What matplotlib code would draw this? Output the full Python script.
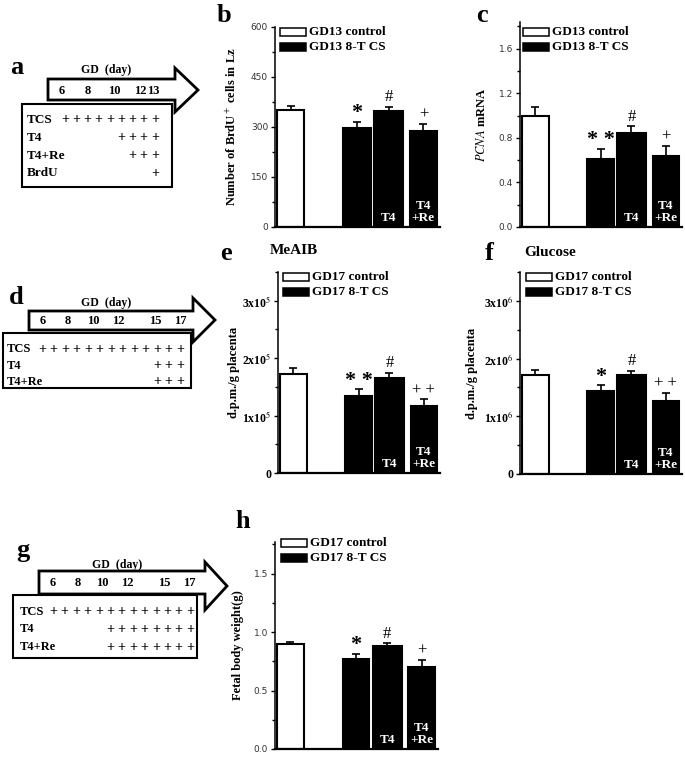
import numpy as np
import matplotlib.pyplot as plt
from matplotlib.patches import Polygon, Rectangle
from matplotlib.ticker import FixedLocator, MultipleLocator

plt.rcParams['font.family'] = ['Liberation Serif', 'DejaVu Serif']
plt.rcParams['mathtext.fontset'] = 'stix'

# ---- bar data (control, 8-T CS, 8-T CS + T4, 8-T CS + T4 + Re) ----
brdu = [352, 297, 349, 287]
brdu_err = [11, 18, 12, 23]
brdu_sig = ['', '*', '#', '+']

pcna = [1.0, 0.61, 0.84, 0.64]
pcna_err = [0.075, 0.09, 0.065, 0.085]
pcna_sig = ['', '* *', '#', '+']

meaib = [1.73e5, 1.34e5, 1.66e5, 1.16e5]
meaib_err = [0.09e5, 0.12e5, 0.09e5, 0.13e5]
meaib_sig = ['', '* *', '#', '+ +']

glucose = [1.71e6, 1.43e6, 1.71e6, 1.27e6]
glucose_err = [0.09e6, 0.11e6, 0.08e6, 0.14e6]
glucose_sig = ['', '*', '#', '+ +']

fbw = [0.90, 0.77, 0.88, 0.70]
fbw_err = [0.017, 0.045, 0.023, 0.063]
fbw_sig = ['', '*', '#', '+']

inside_labels = ['', '', 'T4', 'T4\n+Re']
legend_gd13 = ['GD13 control', 'GD13 8-T CS']
legend_gd17 = ['GD17 control', 'GD17 8-T CS']

# ---- schedule data ----
sched_a_days = [6, 8, 10, 12, 13]
sched_a_rows = ['TCS', 'T4', 'T4+Re', 'BrdU']
sched_a_plus = [9, 4, 3, 1]
sched_d_days = [6, 8, 10, 12, 15, 17]
sched_d_rows = ['TCS', 'T4', 'T4+Re']
sched_d_plus = [13, 3, 3]
sched_g_days = [6, 8, 10, 12, 15, 17]
sched_g_rows = ['TCS', 'T4', 'T4+Re']
sched_g_plus = [13, 8, 8]

W, H = 685, 759
fig = plt.figure(figsize=(W / 100, H / 100), dpi=100)

xpos = [0, 2, 2.95, 4]
widths = [0.82, 0.82, 0.88, 0.8]
colors = ['white', 'black', 'black', 'black']


def px_rect(x0, y0, x1, y1):
    # pixel box -> figure fraction
    return [x0 / W, 1 - y1 / H, (x1 - x0) / W, (y1 - y0) / H]


def bar_panel(box, vals, errs, sig, ymax, ticks, minor, labels, ylabel, lab_x,
              bold_ticks=False):
    ax = fig.add_axes(px_rect(*box))
    ax.patch.set_visible(False)
    ax.bar(xpos, vals, width=widths, color=colors, edgecolor='black',
           linewidth=1.5, zorder=2)
    ax.errorbar(xpos, vals, yerr=[np.zeros(4), errs], fmt='none',
                ecolor='black', elinewidth=1.2, capsize=3, capthick=1.2,
                zorder=3)
    for x, v, e, s in zip(xpos, vals, errs, sig):
        if not s:
            continue
        star = '*' in s
        ax.annotate(s, (x, v + e), xytext=(0, -1 if star else 1),
                    textcoords='offset points', ha='center', va='bottom',
                    fontsize=16 if star else 12,
                    fontweight='bold' if star else 'normal')
    for x, s in zip(xpos, inside_labels):
        if s:
            ax.annotate(s, (x, 0), xytext=(0, 2), textcoords='offset points',
                        ha='center', va='bottom', color='white',
                        fontweight='bold', fontsize=9.5, linespacing=1.0)
    ax.set_xlim(-0.47, 4.5)
    ax.set_ylim(0, ymax)
    ax.spines[['top', 'right']].set_visible(False)
    ax.spines['bottom'].set_linewidth(1.6)
    ax.spines['left'].set_linewidth(1.1)
    ax.set_xticks([])
    ax.yaxis.set_major_locator(FixedLocator(ticks))
    ax.yaxis.set_minor_locator(MultipleLocator(minor))
    ax.set_yticklabels(labels)
    ax.tick_params(axis='y', which='major', length=3, width=1, pad=2)
    ax.tick_params(axis='y', which='minor', length=2, width=1)
    if bold_ticks:
        for t in ax.get_yticklabels():
            t.set_fontweight('bold')
            t.set_fontsize(8.5)
    else:
        for t in ax.get_yticklabels():
            t.set_family('DejaVu Sans')
            t.set_fontsize(6.5)
            t.set_color('#333333')
    ax.set_ylabel(ylabel, fontweight='bold', fontsize=9)
    ax.yaxis.set_label_coords(lab_x, 0.5)
    return ax


bar_panel((275, 27, 440, 227), brdu, brdu_err, brdu_sig, 600,
          [0, 150, 300, 450, 600], 75, ['0', '150', '300', '450', '600'],
          'Number of BrdU$^+$ cells in Lz', -0.22)
bar_panel((520, 22, 682, 227), pcna, pcna_err, pcna_sig, 1.84,
          [0, 0.4, 0.8, 1.2, 1.6], 0.2, ['0.0', '0.4', '0.8', '1.2', '1.6'],
          r'$\mathit{PCNA}$ mRNA', -0.2)
bar_panel((278, 272, 440, 473), meaib, meaib_err, meaib_sig, 3.5e5,
          [0, 1e5, 2e5, 3e5], 0.5e5,
          ['0', '1x10$^5$', '2x10$^5$', '3x10$^5$'],
          'd.p.m./g placenta', -0.235, bold_ticks=True)
bar_panel((520, 272, 682, 474), glucose, glucose_err, glucose_sig, 3.5e6,
          [0, 1e6, 2e6, 3e6], 0.5e6,
          ['0', '1x10$^6$', '2x10$^6$', '3x10$^6$'],
          'd.p.m./g placenta', -0.26, bold_ticks=True)
bar_panel((275, 542, 438, 749), fbw, fbw_err, fbw_sig, 1.77,
          [0, 0.5, 1.0, 1.5], 0.25, ['0.0', '0.5', '1.0', '1.5'],
          'Fetal body weight(g)', -0.19)

# overlay in pixel coordinates for schemes, legends and panel letters
ov = fig.add_axes([0, 0, 1, 1], facecolor='none')
ov.set_xlim(0, W)
ov.set_ylim(H, 0)
ov.axis('off')


def legend(x, y, labels):
    for i, (lab, fc) in enumerate(zip(labels, ['white', 'black'])):
        yy = y + 15 * i
        ov.add_patch(Rectangle((x, yy), 26, 7.5, facecolor=fc,
                               edgecolor='black', linewidth=1.1))
        ov.text(x + 29, yy + 4, lab, fontsize=9.5, fontweight='bold',
                va='center', ha='left')


legend(280, 28, legend_gd13)
legend(523, 28, legend_gd13)
legend(283, 273, legend_gd17)
legend(526, 273, legend_gd17)
legend(281, 539, legend_gd17)


def scheme(days, rows, plus, body, head, box, gd_y, day0, day_step, row_x,
           row_y, plus_right, plus_step, fs=9):
    bx0, bx1, by0, by1 = body
    tip, hy0, hy1 = head
    pts = [(bx0, by0), (bx1, by0), (bx1, hy0), (tip, (hy0 + hy1) / 2),
           (bx1, hy1), (bx1, by1), (bx0, by1)]
    ov.add_patch(Polygon(pts, closed=True, facecolor='white',
                         edgecolor='black', linewidth=2, joinstyle='miter'))
    x0, y0, x1, y1 = box
    ov.add_patch(Rectangle((x0, y0), x1 - x0, y1 - y0, facecolor='white',
                           edgecolor='black', linewidth=1.5))
    ov.text((bx0 + bx1) / 2 - 5, gd_y, 'GD  (day)', fontsize=8.5,
            fontweight='bold', ha='center', va='center')
    for d in days:
        ov.text(day0 + (d - days[0]) * day_step, (by0 + by1) / 2 + 1, str(d),
                fontsize=9, fontweight='bold', ha='center', va='center')
    for r, n, yy in zip(rows, plus, row_y):
        ov.text(row_x, yy, r, fontsize=fs, fontweight='bold', ha='left',
                va='center')
        for k in range(n):
            ov.text(plus_right - k * plus_step, yy, '+', fontsize=10,
                    fontweight='bold', ha='center', va='center')


scheme(sched_a_days, sched_a_rows, sched_a_plus, (48, 175, 79, 100),
       (198, 68, 112), (22, 104, 172, 187), 70, 62, 13, 27,
       [120, 138, 156, 173], 155, 11.25, fs=9.5)
scheme(sched_d_days, sched_d_rows, sched_d_plus, (29, 193, 311, 330),
       (215, 298, 342), (3, 333, 191, 388), 303, 43, 12.5, 7,
       [349, 366, 382], 180, 11.5)
scheme(sched_g_days, sched_g_rows, sched_g_plus, (39, 205, 571, 594),
       (227, 562, 610), (13, 595, 197, 658), 565, 53, 12.4, 20,
       [612, 629, 647], 190, 11.4)

# titles and panel letters
ov.text(294, 251, 'MeAIB', fontsize=11, fontweight='bold', ha='center',
        va='center')
ov.text(550, 252, 'Glucose', fontsize=11, fontweight='bold', ha='center',
        va='center')
for s, x, y in [('a', 17, 67), ('b', 224, 15), ('c', 482, 16),
                ('d', 16, 298), ('e', 226, 254), ('f', 489, 253),
                ('g', 23, 550), ('h', 243, 521)]:
    ov.text(x, y, s, fontsize=19, fontweight='bold', ha='center',
            va='center')

fig.savefig('out.png', dpi=100)
